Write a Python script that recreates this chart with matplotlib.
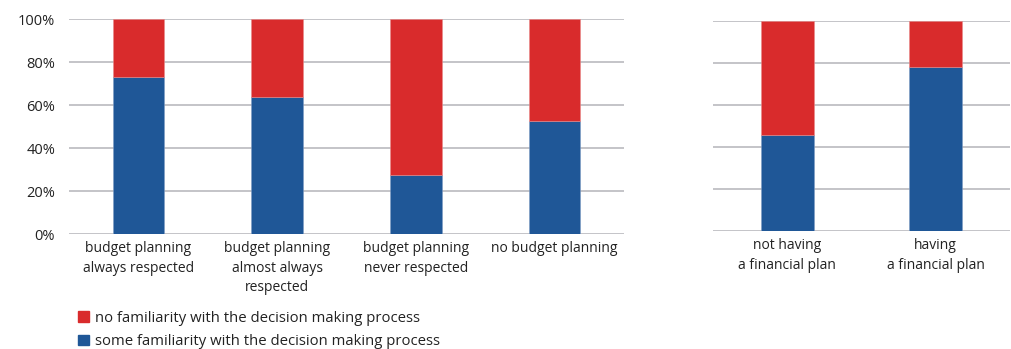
import matplotlib.pyplot as plt
from matplotlib.patches import Patch

# data (percent of respondents)
budget_cats = ['budget planning\nalways respected', 'budget planning\nalmost always\nrespected',
               'budget planning\nnever respected', 'no budget planning']
budget_some = [73, 63.5, 27.5, 52.5]
plan_cats = ['not having\na financial plan', 'having\na financial plan']
plan_some = [45.5, 78]

red = '#d92b2c'
blue = '#1f5797'
grid = '#c4c4c8'
txt = '#222222'

plt.rcParams['font.family'] = ['Open Sans', 'DejaVu Sans']

fig = plt.figure(figsize=(10.11, 3.49), dpi=100)
ax1 = fig.add_axes([0.0682, 0.3295, 0.549, 0.616])
ax2 = fig.add_axes([0.7052, 0.338, 0.2938, 0.6017])


def draw(ax, cats, some, width, show_y):
    x = range(len(cats))
    none = [100 - v for v in some]
    ax.bar(x, some, width=width, color=blue, edgecolor='#7f9cc4', linewidth=0.4, zorder=3)
    ax.bar(x, none, bottom=some, width=width, color=red, edgecolor='#e88a8a', linewidth=0.4, zorder=3)
    ax.set_xlim(-0.5, len(cats) - 0.5)
    ax.set_ylim(0, 100)
    ax.set_yticks([0, 20, 40, 60, 80, 100])
    ax.yaxis.grid(True, color=grid, linewidth=1.4, zorder=0)
    ax.set_axisbelow(True)
    for s in ax.spines.values():
        s.set_visible(False)
    ax.set_xticks(list(x))
    ax.set_xticklabels(cats, fontsize=10, color=txt, linespacing=1.42)
    ax.tick_params(axis='x', length=0, pad=5)
    ax.tick_params(axis='y', length=0, pad=10)
    if show_y:
        ax.set_yticklabels([f'{v}%' for v in range(0, 101, 20)], fontsize=10.5, color=txt)
    else:
        ax.set_yticklabels([])


draw(ax1, budget_cats, budget_some, 0.37, True)
draw(ax2, plan_cats, plan_some, 0.355, False)

handles = [Patch(color=red, label='no familiarity with the decision making process'),
           Patch(color=blue, label='some familiarity with the decision making process')]
fig.legend(handles=handles, loc='upper left', bbox_to_anchor=(0.07, 0.13), frameon=False,
           fontsize=10.7, handlelength=0.75, handleheight=0.75, handletextpad=0.35,
           labelspacing=0.55, borderpad=0, labelcolor=txt)

fig.savefig('out.png', dpi=100)
